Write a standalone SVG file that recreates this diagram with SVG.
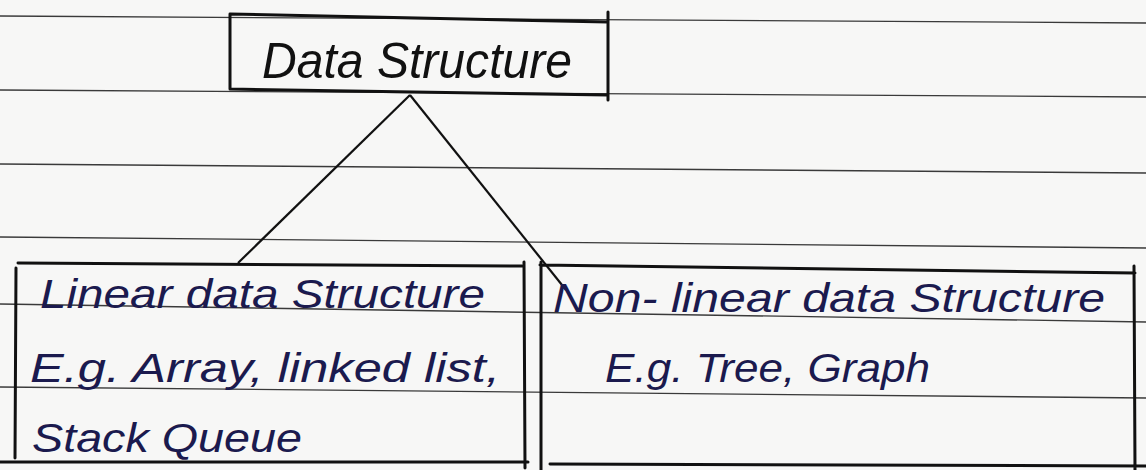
<svg xmlns="http://www.w3.org/2000/svg" width="1146" height="470" viewBox="0 0 1146 470">
<style>
.rule{stroke:#3a3a3a;stroke-width:1.3;fill:none}
.box{stroke:#111;stroke-width:3;fill:none;stroke-linecap:round}
.conn{stroke:#111;stroke-width:2.2;fill:none}
.hw{font-family:"Liberation Sans","DejaVu Sans",sans-serif;font-style:italic}
.top{fill:#111;font-size:50px}
.blue{fill:#1b1a4e;font-size:40px}
</style>
<rect width="1146" height="470" fill="#f7f7f6"/>
<g id="ruled-lines">
<line class="rule" x1="0" y1="16" x2="1146" y2="23"/>
<line class="rule" x1="0" y1="90" x2="1146" y2="97"/>
<line class="rule" x1="0" y1="164" x2="1146" y2="173"/>
<line class="rule" x1="0" y1="237" x2="1146" y2="248"/>
<line class="rule" x1="0" y1="304" x2="1146" y2="322"/>
<line class="rule" x1="0" y1="387" x2="1146" y2="398"/>
</g>
<g id="node-data-structure">
<path class="box" d="M230,14 L608,22 M230,14 L230,89 M230,89 L608,95 M608,12 L608,100"/>
<text class="hw top" x="262" y="78" textLength="310" lengthAdjust="spacingAndGlyphs">Data Structure</text>
</g>
<g id="connectors">
<line class="conn" x1="410" y1="95" x2="238" y2="263"/>
<line class="conn" x1="410" y1="95" x2="566" y2="290"/>
</g>
<g id="node-linear">
<path class="box" d="M18,263 L522,266 M16,268 L15,458 M524,262 L525,468 M0,462 L528,462"/>
<text class="hw blue" x="40" y="308" textLength="445" lengthAdjust="spacingAndGlyphs">Linear data Structure</text>
<text class="hw blue" x="30" y="382" textLength="470" lengthAdjust="spacingAndGlyphs">E.g. Array, linked list,</text>
<text class="hw blue" x="32" y="452" textLength="270" lengthAdjust="spacingAndGlyphs">Stack  Queue</text>
</g>
<g id="node-nonlinear">
<path class="box" d="M540,265 L1135,273 M541,262 L541,470 M1134,266 L1135,470 M550,464 L1146,466"/>
<text class="hw blue" x="553" y="312" textLength="552" lengthAdjust="spacingAndGlyphs">Non- linear data Structure</text>
<text class="hw blue" x="605" y="382" textLength="325" lengthAdjust="spacingAndGlyphs">E.g. Tree, Graph</text>
</g>
</svg>
